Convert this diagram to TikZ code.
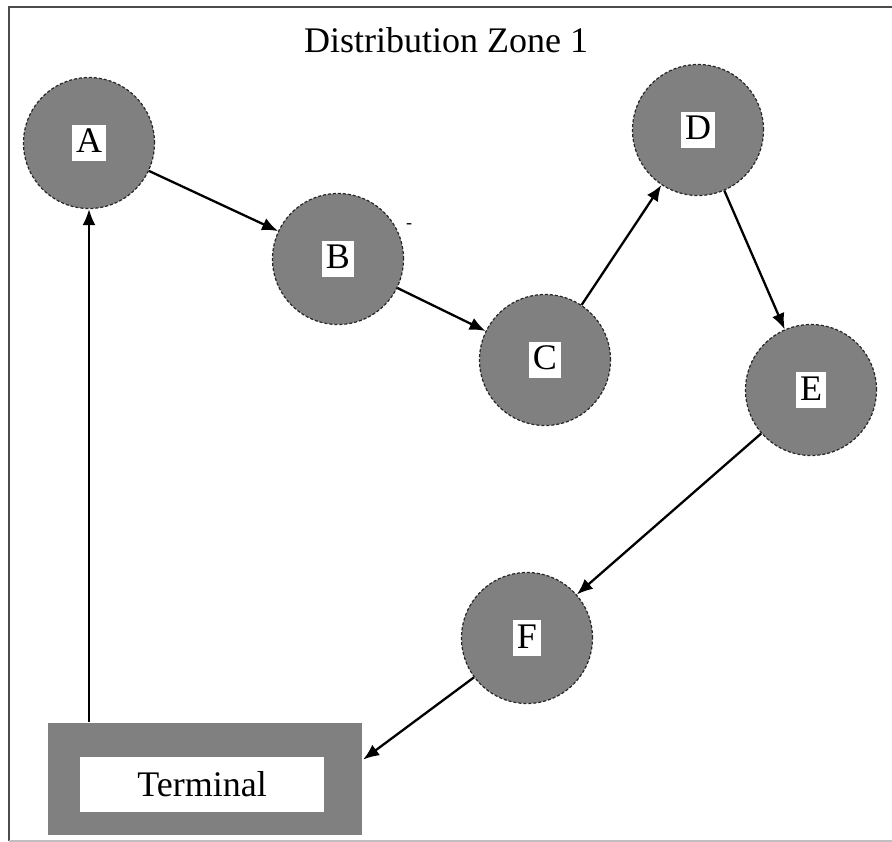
\documentclass[tikz,border=0pt]{standalone}
\usepackage{fontspec}
\setmainfont{Liberation Serif}
\usetikzlibrary{arrows.meta}

\newcommand{\stopname}[1]{{\setlength{\fboxsep}{4pt}\colorbox{white}{\rule[-4pt]{0pt}{28pt}#1}}}

\begin{document}
\begin{tikzpicture}[x=1pt,y=-1pt,->,>={Latex[length=16pt,width=13pt]},line width=2.3pt,
  stop node/.style={circle,fill=gray,draw=black!85,line width=1.2pt,densely dashed,
    minimum size=131pt,inner sep=0pt,font=\fontsize{36}{40}\selectfont},
  depot node/.style={rectangle,fill=gray,minimum width=314pt,minimum height=112pt,inner sep=0pt},
  depot text/.style={rectangle,fill=white,minimum width=244pt,minimum height=55pt,
    inner sep=0pt,font=\fontsize{36}{40}\selectfont}]

  \useasboundingbox (0,0) rectangle (892,842);
  \draw[-,black!70,line width=1.5pt] (892,7) -- (9,7) -- (9,841);
  \draw[-,black!25,line width=1.2pt] (9,841) -- (892,841);

  \node[font=\fontsize{36}{40}\selectfont,anchor=base] (zone) at (446,53) {Distribution Zone 1};

  \node[stop node] (A) at (89,143) {\stopname{A}};
  \node[stop node] (B) at (338,259) {\stopname{B}};
  \node[stop node] (C) at (545,360) {\stopname{C}};
  \node[stop node] (D) at (698,130) {\stopname{D}};
  \node[stop node] (E) at (811,390) {\stopname{E}};
  \node[stop node] (F) at (527,638) {\stopname{F}};
  \node[font=\fontsize{18}{18}\selectfont] (mark) at (409,226) {-};

  \node[depot node] (term) at (205,779) {};
  \node[depot text] (termtext) at (202,784) {Terminal};

  \path
    (A) edge (B)
    (B) edge (C)
    (C) edge (D)
    (D) edge (E)
    (E) edge (F)
    (F) edge (term.7)
    (A |- term.north) edge (A);
\end{tikzpicture}
\end{document}
